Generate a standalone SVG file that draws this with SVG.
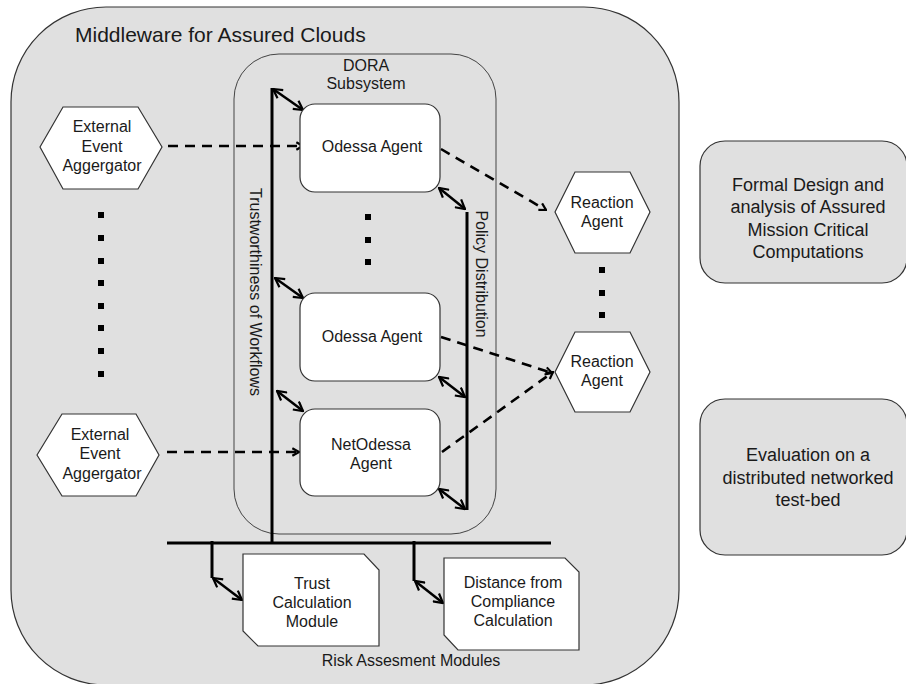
<svg xmlns="http://www.w3.org/2000/svg" width="906" height="684" viewBox="0 0 906 684">
<defs>
<style>
text{font-family:"Liberation Sans",Arial,sans-serif;font-size:16px;fill:#1a1a1a;text-anchor:middle}
.panel{fill:#e0e0e0;stroke:#333;stroke-width:1.2}
.node{fill:#fff;stroke:#333;stroke-width:1.2}
.sub{fill:none;stroke:#444;stroke-width:1}
.bus{stroke:#000;stroke-width:3;fill:none}
.dash{stroke:#000;stroke-width:2.6;fill:none;stroke-dasharray:10 7;marker-end:url(#open)}
.dbl{stroke:#000;stroke-width:2.5;fill:none;marker-start:url(#open2);marker-end:url(#open2)}
.dot{fill:#000}
</style>
<marker id="open" viewBox="0 0 12 12" refX="11" refY="6" markerWidth="10" markerHeight="10" markerUnits="userSpaceOnUse" orient="auto">
<path d="M3,1.5 L11,6 L3,10.5" fill="none" stroke="#000" stroke-width="2.6"/>
</marker>
<marker id="open2" viewBox="0 0 12 12" refX="11" refY="6" markerWidth="12" markerHeight="12" markerUnits="userSpaceOnUse" orient="auto-start-reverse">
<path d="M2,1 L11,6 L2,11" fill="none" stroke="#000" stroke-width="2.2"/>
</marker>
</defs>

<g id="middleware">
<rect class="panel" x="11" y="7" width="668" height="678" rx="95"/>
<text x="75" y="42" style="font-size:21px;text-anchor:start">Middleware for Assured Clouds</text>
</g>

<g id="dora">
<rect class="sub" x="234" y="54" width="262" height="480" rx="45"/>
<text x="366" y="71">DORA</text>
<text x="366" y="89">Subsystem</text>
</g>

<g id="formal-design">
<rect class="panel" x="700" y="141" width="207" height="142" rx="25"/>
<text x="808" y="191" style="font-size:18px">Formal Design and</text>
<text x="808" y="213" style="font-size:18px">analysis of Assured</text>
<text x="808" y="236" style="font-size:18px">Mission Critical</text>
<text x="808" y="258" style="font-size:18px">Computations</text>
</g>

<g id="evaluation">
<rect class="panel" x="700" y="399" width="207" height="156" rx="25"/>
<text x="808" y="461" style="font-size:18px">Evaluation on a</text>
<text x="808" y="484" style="font-size:18px">distributed networked</text>
<text x="808" y="506" style="font-size:18px">test-bed</text>
</g>

<g id="connectors">
<line class="bus" x1="272" y1="88" x2="272" y2="543"/>
<line class="bus" x1="467" y1="212" x2="467" y2="510"/>
<line class="bus" x1="167" y1="543" x2="551" y2="543"/>
<polyline class="bus" points="212,541 212,578"/>
<polyline class="bus" points="414,541 414,581"/>
<line class="dbl" x1="273" y1="89" x2="303" y2="110"/>
<line class="dbl" x1="275" y1="278" x2="303" y2="298"/>
<line class="dbl" x1="277" y1="391" x2="303" y2="411"/>
<line class="dbl" x1="439" y1="188" x2="465" y2="209"/>
<line class="dbl" x1="439" y1="377" x2="465" y2="397"/>
<line class="dbl" x1="439" y1="489" x2="465" y2="509"/>
<line class="dbl" x1="213" y1="578" x2="242" y2="600"/>
<line class="dbl" x1="415" y1="581" x2="443" y2="603"/>
<line class="dash" x1="168" y1="146" x2="303" y2="146"/>
<line class="dash" x1="167" y1="452" x2="299" y2="452"/>
<line class="dash" x1="441" y1="149" x2="546" y2="210"/>
<line class="dash" x1="441" y1="337" x2="552" y2="373"/>
<line class="dash" x1="442" y1="452" x2="553" y2="372"/>
</g>

<g id="trust-label">
<text transform="translate(250,292) rotate(90)">Trustworthiness of Workflows</text>
</g>
<g id="policy-label">
<text transform="translate(476,274) rotate(90)">Policy Distribution</text>
</g>

<g id="ext-agg-1">
<polygon class="node" points="40,147 63,107 138,107 162,147 138,189 63,189"/>
<text x="102" y="132">External</text>
<text x="102" y="152">Event</text>
<text x="102" y="171">Aggergator</text>
</g>

<g id="ext-agg-2">
<polygon class="node" points="37,455 62,414 136,414 159,455 136,496 62,496"/>
<text x="100" y="440">External</text>
<text x="100" y="459">Event</text>
<text x="102" y="479">Aggergator</text>
</g>

<g id="left-dots">
<rect class="dot" x="98" y="212" width="6" height="6"/>
<rect class="dot" x="98" y="235" width="6" height="6"/>
<rect class="dot" x="98" y="258" width="6" height="6"/>
<rect class="dot" x="98" y="280" width="6" height="6"/>
<rect class="dot" x="98" y="303" width="6" height="6"/>
<rect class="dot" x="98" y="325" width="6" height="6"/>
<rect class="dot" x="98" y="348" width="6" height="6"/>
<rect class="dot" x="98" y="371" width="6" height="6"/>
</g>

<g id="odessa-1">
<rect class="node" x="300" y="104" width="140" height="88" rx="15"/>
<text x="372" y="152">Odessa Agent</text>
</g>

<g id="mid-dots">
<rect class="dot" x="365" y="214" width="6" height="6"/>
<rect class="dot" x="365" y="237" width="6" height="6"/>
<rect class="dot" x="365" y="259" width="6" height="6"/>
</g>

<g id="odessa-2">
<rect class="node" x="300" y="293" width="140" height="88" rx="15"/>
<text x="372" y="342">Odessa Agent</text>
</g>

<g id="netodessa">
<rect class="node" x="300" y="409" width="140" height="87" rx="15"/>
<text x="371" y="450">NetOdessa</text>
<text x="371" y="469">Agent</text>
</g>

<g id="reaction-1">
<polygon class="node" points="555,212 575,172 630,172 650,212 630,253 575,253"/>
<text x="602" y="208">Reaction</text>
<text x="602" y="227">Agent</text>
</g>

<g id="right-dots">
<rect class="dot" x="599" y="267" width="6" height="6"/>
<rect class="dot" x="599" y="290" width="6" height="6"/>
<rect class="dot" x="599" y="312" width="6" height="6"/>
</g>

<g id="reaction-2">
<polygon class="node" points="555,372 575,332 630,332 650,372 630,412 575,412"/>
<text x="602" y="367">Reaction</text>
<text x="602" y="386">Agent</text>
</g>

<g id="trust-calc">
<polygon class="node" points="243,554 364,554 379,570 379,646 258,646 243,631"/>
<text x="312" y="589">Trust</text>
<text x="312" y="608">Calculation</text>
<text x="312" y="627">Module</text>
</g>

<g id="distance-calc">
<polygon class="node" points="444,558 565,558 579,572 579,650 458,650 444,635"/>
<text x="513" y="588">Distance from</text>
<text x="513" y="607">Compliance</text>
<text x="513" y="626">Calculation</text>
</g>

<g id="risk-label">
<text x="411" y="666">Risk Assesment Modules</text>
</g>
</svg>
